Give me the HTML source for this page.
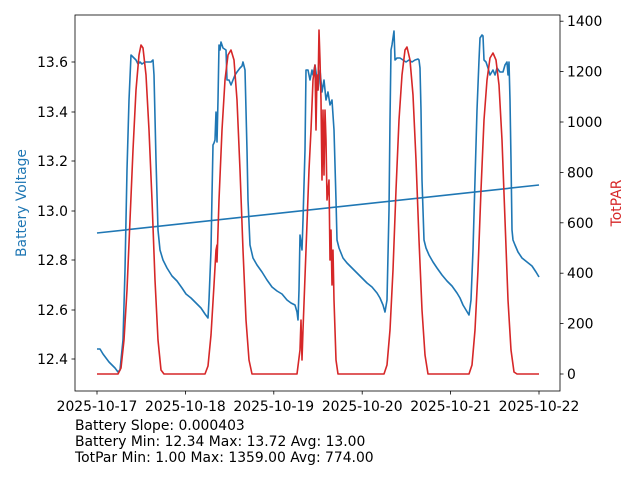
<!DOCTYPE html>
<html><head><style>body{margin:0;background:#fff}svg{display:block;font-family:"DejaVu Sans","Liberation Sans",sans-serif}</style></head><body>
<svg width="640" height="480" xmlns="http://www.w3.org/2000/svg">
<rect width="640" height="480" fill="#fff"/>
<g stroke="#000" stroke-width="0.8" font-size="13.9" fill="#000">
<g text-anchor="end">
<line x1="75" y1="359" x2="71.5" y2="359"/><text x="68" y="364" stroke="none">12.4</text>
<line x1="75" y1="310" x2="71.5" y2="310"/><text x="68" y="315" stroke="none">12.6</text>
<line x1="75" y1="260" x2="71.5" y2="260"/><text x="68" y="265" stroke="none">12.8</text>
<line x1="75" y1="211" x2="71.5" y2="211"/><text x="68" y="216" stroke="none">13.0</text>
<line x1="75" y1="161" x2="71.5" y2="161"/><text x="68" y="166" stroke="none">13.2</text>
<line x1="75" y1="112" x2="71.5" y2="112"/><text x="68" y="117" stroke="none">13.4</text>
<line x1="75" y1="62" x2="71.5" y2="62"/><text x="68" y="67" stroke="none">13.6</text>
</g>
<g text-anchor="start">
<line x1="560" y1="374" x2="563.5" y2="374"/><text x="567" y="379" stroke="none">0</text>
<line x1="560" y1="323.6" x2="563.5" y2="323.6"/><text x="567" y="328.6" stroke="none">200</text>
<line x1="560" y1="273.2" x2="563.5" y2="273.2"/><text x="567" y="278.2" stroke="none">400</text>
<line x1="560" y1="222.8" x2="563.5" y2="222.8"/><text x="567" y="227.8" stroke="none">600</text>
<line x1="560" y1="172.4" x2="563.5" y2="172.4"/><text x="567" y="177.4" stroke="none">800</text>
<line x1="560" y1="122" x2="563.5" y2="122"/><text x="567" y="127" stroke="none">1000</text>
<line x1="560" y1="71.6" x2="563.5" y2="71.6"/><text x="567" y="76.6" stroke="none">1200</text>
<line x1="560" y1="21.2" x2="563.5" y2="21.2"/><text x="567" y="26.2" stroke="none">1400</text>
</g>
<g text-anchor="middle">
<line x1="97" y1="391" x2="97" y2="394.5"/><text x="97" y="411" stroke="none">2025-10-17</text>
<line x1="185.4" y1="391" x2="185.4" y2="394.5"/><text x="185.4" y="411" stroke="none">2025-10-18</text>
<line x1="273.8" y1="391" x2="273.8" y2="394.5"/><text x="273.8" y="411" stroke="none">2025-10-19</text>
<line x1="362.2" y1="391" x2="362.2" y2="394.5"/><text x="362.2" y="411" stroke="none">2025-10-20</text>
<line x1="450.6" y1="391" x2="450.6" y2="394.5"/><text x="450.6" y="411" stroke="none">2025-10-21</text>
<line x1="539" y1="391" x2="539" y2="394.5"/><text x="539" y="411" stroke="none">2025-10-22</text>
</g>
</g>
<polyline fill="none" stroke="#1f77b4" stroke-width="1.6" stroke-linejoin="round" points="97,349 100,349 103,354 106,358 109,362 112,365 115,368 118,372 120,370 123,340 125,270 127,170 129,100 131,55 133,57 136,60 138,64 140,62 142,64 145,62 148,62 151,62 153,60 154,75 156,160 158,230 160,250 163,260 167,268 172,276 177,281 182,288 186,294 191,298 196,303 201,308 205,314 208,318 209,300 211,250 212,195 213,145 214,143 215,140 216,112 217,142 218,100 219,45 220,50 221,42 223,48 226,50 227,80 229,80 231,85 233,80 235,75 237,72 240,68 242,66 243,62 245,70 247,150 248,200 250,245 253,258 257,265 262,272 267,280 272,287 277,291 282,294 287,300 291,303 295,305 297,312 298,320 299,290 300,235 302,250 303,220 305,150 306,70 308,70 309,75 310,80 312,70 313,75 315,65 316,72 318,90 320,70 322,92 324,80 326,100 328,92 330,105 332,100 334,130 336,200 337,240 339,248 343,258 347,263 352,268 357,273 362,278 367,283 372,287 377,293 380,298 383,305 385,312 387,300 389,210 390,120 391,50 392,45 393,38 394,31 395,60 397,58 400,58 403,60 406,62 409,60 412,62 415,60 418,59 419,60 420,68 421,110 422,180 424,240 426,248 429,255 433,262 437,268 442,275 447,281 452,286 457,293 460,298 463,305 466,310 469,315 471,300 473,250 475,180 477,110 479,60 480,38 482,35 483,36 484,60 486,62 488,68 490,75 493,70 495,75 497,68 500,72 503,72 505,65 507,62 508,75 509,62 510,100 511,160 512,230 513,240 515,245 518,252 522,258 527,262 532,266 536,272 539,277"/>
<line x1="97" y1="233" x2="539" y2="185" stroke="#1f77b4" stroke-width="1.6"/>
<polyline fill="none" stroke="#d62728" stroke-width="1.6" stroke-linejoin="round" points="97,374 118,374 121,368 124,340 127,290 130,220 133,150 136,90 139,55 141,45 143,48 146,75 149,130 152,200 155,280 158,340 161,370 164,374 205,374 208,366 211,335 214,285 216,250 217,245 217,262 219,200 222,130 225,80 228,55 231,50 234,60 237,100 240,170 243,250 246,320 249,360 252,374 297,374 300,350 301,320 302,360 303,330 306,250 309,170 311,130 313,80 315,65 316,130 317,75 318,90 319,30 320,60 321,100 322,180 323,110 324,175 325,110 326,140 327,200 329,180 330,260 331,230 332,285 333,250 334,300 336,360 338,374 384,374 387,365 390,330 393,270 396,190 399,120 402,75 405,50 407,47 410,60 413,95 416,160 419,240 422,310 425,355 428,374 469,374 472,365 475,330 478,270 481,190 484,120 487,80 490,58 493,53 496,60 499,85 502,140 505,220 508,300 511,350 514,372 517,374 539,374"/>
<rect x="75" y="15" width="485" height="376" fill="none" stroke="#000" stroke-width="0.8"/>
<text x="26" y="203" font-size="13.9" fill="#1f77b4" text-anchor="middle" transform="rotate(-90 26 203)">Battery Voltage</text>
<text x="621" y="203" font-size="13.9" fill="#d62728" text-anchor="middle" transform="rotate(-90 621 203)">TotPAR</text>
<g font-size="13.9" fill="#000">
<text x="75" y="430">Battery Slope: 0.000403</text>
<text x="75" y="446">Battery Min: 12.34 Max: 13.72 Avg: 13.00</text>
<text x="75" y="462">TotPar Min: 1.00 Max: 1359.00 Avg: 774.00</text>
</g>
</svg>
</body></html>
